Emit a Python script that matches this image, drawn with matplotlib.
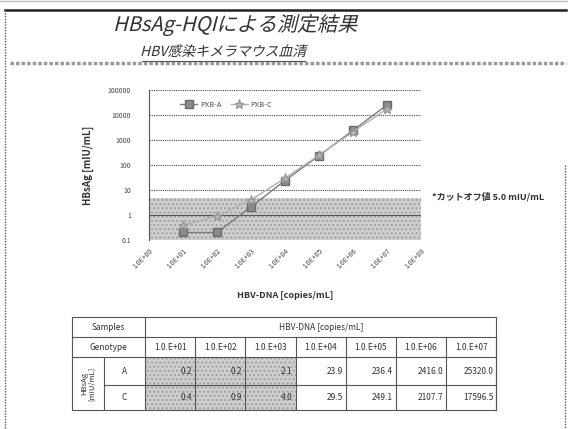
import matplotlib
matplotlib.use("Agg")
import matplotlib.pyplot as plt
from matplotlib.patheffects import AbstractPathEffect
from matplotlib.transforms import Affine2D
from matplotlib.patches import Rectangle

plt.rcParams['font.family'] = ['Noto Sans CJK JP', 'DejaVu Sans']

# ---- data ----
dna_labels = ["1.0E+00", "1.0E+01", "1.0E+02", "1.0E+03", "1.0E+04",
              "1.0E+05", "1.0E+06", "1.0E+07", "1.0E+08"]
dna_pos = [1, 2, 3, 4, 5, 6, 7]           # categories carrying measurements
pxb_a = [0.2, 0.2, 2.1, 23.9, 236.4, 2416.0, 25320.0]
pxb_c = [0.4, 0.9, 4.0, 29.5, 249.1, 2107.7, 17596.5]
series_names = ["PXB-A", "PXB-C"]
y_ticks = [0.1, 1, 10, 100, 1000, 10000, 100000]
y_ticklabels = ["0.1", "1", "10", "100", "1000", "10000", "100000"]
cutoff = 5.0
table_cols = ["1.0.E+01", "1.0.E+02", "1.0.E+03", "1.0.E+04",
              "1.0.E+05", "1.0.E+06", "1.0.E+07"]
genotypes = ["A", "C"]


class Skew(AbstractPathEffect):
    """Slant glyph outlines about the text origin (synthetic italic)."""
    def __init__(self, deg):
        super().__init__()
        self.deg = deg

    def draw_path(self, renderer, gc, tpath, affine, rgbFace=None):
        x0, y0 = affine.transform((0, 0))
        a = affine + Affine2D().translate(-x0, -y0).skew_deg(self.deg, 0).translate(x0, y0)
        renderer.draw_path(gc, tpath, a, rgbFace)


W, H = 568, 429
fig = plt.figure(figsize=(W / 100, H / 100), dpi=100)
fig.patch.set_facecolor("white")

# overlay in pixel coordinates for the frame, headings and table
ov = fig.add_axes([0, 0, 1, 1])
ov.set_xlim(0, W)
ov.set_ylim(H, 0)
ov.axis("off")

# ---- chart ----
L, R, T, B = 149, 421, 90, 240
ax = fig.add_axes([L / W, 1 - B / H, (R - L) / W, (B - T) / H])
ax.set_yscale("log")
ax.set_ylim(0.1, 100000)
ax.set_xlim(0, len(dna_labels) - 1)
ax.axhspan(0.1, cutoff, facecolor="#cfcfcf", edgecolor="#a0a0a0",
           hatch="....", lw=0, zorder=0)
for v in y_ticks:
    if v == 1:
        ax.axhline(v, color="#555555", lw=0.8, zorder=1)
    else:
        ax.axhline(v, color="#444444", lw=0.8, ls=(0, (1, 1)), zorder=1)
ax.plot(dna_pos, pxb_a, color="#7a7a7a", lw=1.0, marker="s", ms=5.5,
        mfc="#8a8a8a", mec="#6a6a6a", label=series_names[0], zorder=3)
ax.plot(dna_pos, pxb_c, color="#b0b0b0", lw=1.0, marker="*", ms=6.5,
        mfc="#bdbdbd", mec="#999999", label=series_names[1], zorder=3)
for s in ["top", "right", "bottom"]:
    ax.spines[s].set_visible(False)
ax.spines["left"].set_linestyle((0, (1, 1)))
ax.spines["left"].set_color("#555555")
ax.spines["left"].set_linewidth(0.8)
ax.set_yticks(y_ticks)
ax.set_yticklabels(y_ticklabels)
ax.yaxis.set_minor_locator(matplotlib.ticker.NullLocator())
ax.set_xticks(range(len(dna_labels)))
ax.set_xticklabels(dna_labels, rotation=45, ha="right", va="top",
                   rotation_mode="anchor")
ax.tick_params(axis="both", length=0, labelsize=5, labelcolor="#444444")
ax.tick_params(axis="y", pad=13)
ax.tick_params(axis="x", pad=5)
ax.set_facecolor("none")
ax.set_ylabel("HBsAg [mIU/mL]", fontsize=7, fontweight="bold", color="#333333",
              labelpad=10)
ax.set_xlabel("HBV-DNA [copies/mL]", fontsize=6.5, fontweight="bold",
              color="#333333", labelpad=15)
ax.legend(loc="center left", bbox_to_anchor=(0.09, 0.9), ncol=2, frameon=False,
          fontsize=5.5, handlelength=2.2, columnspacing=1.2, handletextpad=0.4,
          labelcolor="#555555")

# ---- frame and headings ----
ov.plot([0, W], [1, 1], color="#bbbbbb", lw=1)
ov.plot([5, 566], [10, 10], color="#222222", lw=1.8)
ov.plot([5, 5], [10, H], color="#555555", lw=1, ls=(0, (1, 1)))
ov.plot([565, 565], [165, H], color="#555555", lw=1, ls=(0, (1, 1)))
ov.plot([10, 566], [63, 63], color="#9a9a9a", lw=2.5, ls=(0, (1, 0.6)))

ov.text(235, 25, "HBsAg-HQIによる測定結果", fontsize=14.5, color="#333333",
        ha="center", va="center", path_effects=[Skew(14)])
ov.text(223, 52, "HBV感染キメラマウス血清", fontsize=10, color="#333333",
        ha="center", va="center", path_effects=[Skew(14)])
ov.plot([142, 305], [61, 61], color="#555555", lw=0.8)

ov.text(432, 197, f"*カットオフ値 {cutoff:.1f} mIU/mL", fontsize=6.5,
        fontweight="bold", color="#333333", ha="left", va="center")

# ---- table ----
tx0, tx1, tx2 = 72, 104, 145
col_w = 50.2
row_y = [317, 337, 357, 385, 410]
tx_end = tx2 + col_w * len(table_cols)
lc = "#555555"
fs = 6

for r, vals in enumerate([pxb_a, pxb_c]):
    y0, y1 = row_y[2 + r], row_y[3 + r]
    for c, v in enumerate(vals):
        if v < cutoff:
            ov.add_patch(Rectangle((tx2 + c * col_w, y0), col_w, y1 - y0,
                                   facecolor="#cfcfcf", edgecolor="#a0a0a0",
                                   hatch="....", lw=0))
        ov.text(tx2 + (c + 1) * col_w - 3, (y0 + y1) / 2, f"{v:.1f}",
                fontsize=fs, ha="right", va="center", color="#333333")
    ov.text((tx1 + tx2) / 2, (y0 + y1) / 2, genotypes[r], fontsize=fs,
            ha="center", va="center", color="#333333")

# grid lines of the table
ov.plot([tx0, tx_end], [row_y[0], row_y[0]], color=lc, lw=0.8)
ov.plot([tx0, tx_end], [row_y[1], row_y[1]], color=lc, lw=0.8)
ov.plot([tx0, tx_end], [row_y[2], row_y[2]], color=lc, lw=0.8)
ov.plot([tx1, tx_end], [row_y[3], row_y[3]], color=lc, lw=0.8)
ov.plot([tx0, tx_end], [row_y[4], row_y[4]], color=lc, lw=0.8)
ov.plot([tx0, tx0], [row_y[0], row_y[4]], color=lc, lw=0.8)
ov.plot([tx1, tx1], [row_y[2], row_y[4]], color=lc, lw=0.8)
ov.plot([tx2, tx2], [row_y[0], row_y[4]], color=lc, lw=0.8)
for c in range(1, len(table_cols) + 1):
    ov.plot([tx2 + c * col_w] * 2, [row_y[1], row_y[4]], color=lc, lw=0.8)
ov.plot([tx_end, tx_end], [row_y[0], row_y[4]], color=lc, lw=0.8)

ov.text((tx0 + tx2) / 2, (row_y[0] + row_y[1]) / 2, "Samples", fontsize=fs,
        ha="center", va="center", color="#333333")
ov.text((tx2 + tx_end) / 2, (row_y[0] + row_y[1]) / 2, "HBV-DNA [copies/mL]",
        fontsize=fs, ha="center", va="center", color="#333333")
ov.text((tx0 + tx2) / 2, (row_y[1] + row_y[2]) / 2, "Genotype", fontsize=fs,
        ha="center", va="center", color="#333333")
for c, lab in enumerate(table_cols):
    ov.text(tx2 + (c + 0.5) * col_w, (row_y[1] + row_y[2]) / 2, lab,
            fontsize=fs, ha="center", va="center", color="#333333")
ov.text((tx0 + tx1) / 2, (row_y[2] + row_y[4]) / 2, "HBsAg\n[mIU/mL]",
        fontsize=5.5, rotation=90, ha="center", va="center",
        color="#333333", linespacing=1.0, multialignment="center")

fig.savefig("out.png", dpi=100)
